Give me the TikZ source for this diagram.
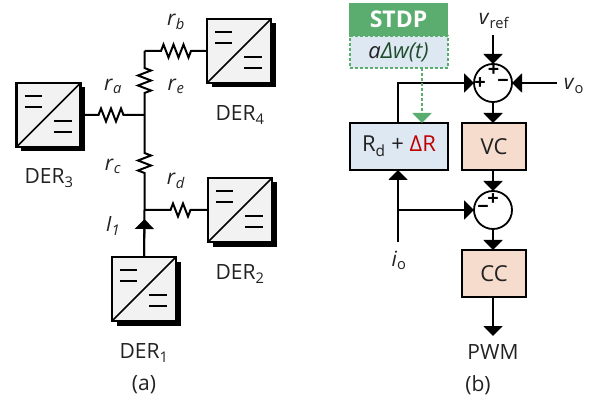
\documentclass[tikz,border=0pt]{standalone}
\usepackage{fontspec}
\setmainfont{Open Sans}
\usetikzlibrary{arrows.meta,decorations.pathmorphing,calc}
\definecolor{dergray}{HTML}{F2F2F2}
\definecolor{stdpgreen}{HTML}{5BAD6F}
\definecolor{lblue}{HTML}{DEE8F3}
\definecolor{lorange}{HTML}{F6DCCD}
\definecolor{dkgreen}{HTML}{1E4D2B}
\definecolor{dred}{HTML}{C00000}
\definecolor{txt}{HTML}{222222}
\newcommand{\ital}[2]{\textit{#1}\textsubscript{\textit{#2}}}
\newcommand{\rmsub}[2]{#1\textsubscript{#2}}
\newcommand{\dersym}[2]{%
  \fill[black] ($(#2)+(4.5,4.5)+(-32,-32)$) rectangle ($(#2)+(4.5,4.5)+(32,32)$);
  \node[derbox] (#1) at (#2) {};
  \draw[line width=1.6pt] (#1.south west)--(#1.north east);
  \draw[line width=1.6pt] ([shift={(8,13)}]#1.north west)--([shift={(25,13)}]#1.north west);
  \draw[line width=1.6pt] ([shift={(8,24)}]#1.north west)--([shift={(25,24)}]#1.north west);
  \draw[line width=1.6pt] ([shift={(37,38)}]#1.north west)--([shift={(55,38)}]#1.north west);
  \draw[line width=1.6pt] ([shift={(37,49)}]#1.north west)--([shift={(55,49)}]#1.north west);
}
\tikzset{
  wire/.style={line width=2pt,black},
  head/.style={-{Triangle[length=10pt,width=19pt]}},
  lbl/.style={font=\fontsize{21}{24}\selectfont,text=txt,inner sep=0pt},
  derbox/.style={draw=black,line width=2.2pt,fill=dergray,minimum size=64pt,inner sep=0pt,outer sep=0pt},
  ctrl/.style={draw=black,line width=1.8pt,inner sep=0pt,outer sep=0pt,font=\fontsize{22}{24}\selectfont,text=txt},
  sumc/.style={circle,draw=black,fill=white,line width=1.8pt,minimum size=38pt,inner sep=0pt,outer sep=0pt},
  resistor/.style 2 args={decorate,decoration={zigzag,amplitude=6.5pt,segment length=10pt,pre length=#1,post length=#2}},
  sign/.style={font=\fontsize{20}{20}\bfseries\selectfont,inner sep=0pt,text=black},
}
\begin{document}
\begin{tikzpicture}[x=1pt,y=-1pt]
\useasboundingbox (0,0) rectangle (599,403);
% panel a
\dersym{d4}{239,51}
\dersym{d3}{48.5,115}
\dersym{d2}{240,210}
\dersym{d1}{144,289}
\coordinate (top) at (144.5,51);
\coordinate (ja) at (144.5,115);
\coordinate (jb) at (144.5,210);
\coordinate (tipi) at (144.5,219);
\draw[wire,resistor={16pt}{14pt}] (top -| d4.west) -- (top);
\draw[wire,resistor={17pt}{18pt}] (top) -- (ja);
\draw[wire,resistor={14pt}{18pt}] ($(d3.east)+(4,0)$) -- (ja);
\draw[wire,resistor={38pt}{35pt}] (ja) -- (jb);
\draw[wire,resistor={26pt}{13pt}] (jb) -- (d2.west |- jb);
\draw[wire] (d1.north) -- (jb);
\draw[wire,head] (d1.north) -- (tipi);
\node[lbl] (lrb) at (176,22) {\ital{r}{b}};
\node[lbl] (lra) at (113,86) {\ital{r}{a}};
\node[lbl] (lre) at (176,86) {\ital{r}{e}};
\node[lbl] (lrc) at (113,166) {\ital{r}{c}};
\node[lbl] (lrd) at (176,181) {\ital{r}{d}};
\node[lbl] (li1) at (113,226) {\ital{I}{1}};
\node[lbl] (n4) at (240,115) {\rmsub{DER}{4}};
\node[lbl] (n3) at (49,178) {\rmsub{DER}{3}};
\node[lbl] (n2) at (240,274) {\rmsub{DER}{2}};
\node[lbl] (n1) at (144,353) {\rmsub{DER}{1}};
\node[lbl] (capa) at (144,385) {(a)};
% panel b
\node[draw=stdpgreen,fill=stdpgreen,minimum width=98pt,minimum height=33pt,inner sep=0pt,outer sep=0pt,text=white,font=\fontsize{23}{24}\bfseries\selectfont] (stdp) at (398.5,19.5) {STDP};
\node[draw=stdpgreen,fill=lblue,densely dashed,line width=2pt,minimum width=98pt,minimum height=32pt,inner sep=0pt,outer sep=0pt,font=\fontsize{22}{24}\selectfont,text=dkgreen] (aw) at (398.5,52) {\textit{\textcolor{txt}{a}Δw(t)}};
\node[ctrl,fill=lblue,minimum width=98pt,minimum height=47pt] (rd) at (399,146.5) {\rmsub{R}{d} + \textcolor{dred}{ΔR}};
\node[ctrl,fill=lorange,minimum width=64pt,minimum height=47pt] (vc) at (494,146.5) {VC};
\node[ctrl,fill=lorange,minimum width=64pt,minimum height=47pt] (cc) at (494,273.5) {CC};
\node[sumc] (s1) at (493,83) {};
\node[sumc] (s2) at (493,210) {};
\node[sign] (p1) at (493.5,71) {+};
\node[sign] (p2) at (480,84) {+};
\node[sign] (m1) at (503,83) {−};
\node[sign] (p3) at (493,200) {+};
\node[sign] (m2) at (483,209) {−};
\coordinate (vr) at (493,35);
\coordinate (vo) at (557,83);
\coordinate (io) at (398,242);
\coordinate (jo) at (398,210);
\coordinate (pw) at (493,336);
\draw[wire,head] (vr) -- (s1.north);
\draw[wire,head] (vo) -- (s1.east);
\draw[wire,head] (rd.north -| jo) |- (s1.west);
\draw[wire,head] (s1.south) -- (s1.south |- vc.north);
\draw[wire,head] (vc.south -| s2) -- (s2.north);
\draw[wire,head] (s2.south) -- (s2.south |- cc.north);
\draw[wire,head] (cc.south -| pw) -- (pw);
\draw[wire,head] (io) -- (jo |- rd.south);
\draw[wire,head] (jo) -- (s2.west);
\draw[line width=2pt,draw=stdpgreen,densely dashed,-{Triangle[length=10pt,width=19pt,fill=stdpgreen]}] (aw.south -| 422,0) -- (rd.north -| 422,0);
\node[lbl] (lvr) at (494,21) {\textit{v}\textsubscript{ref}};
\node[lbl] (lvo) at (574,86) {\textit{v}\textsubscript{o}};
\node[lbl] (lio) at (399,260) {\textit{i}\textsubscript{o}};
\node[lbl] (pwm) at (493,352) {PWM};
\node[lbl] (capb) at (478,385) {(b)};
\end{tikzpicture}
\end{document}
